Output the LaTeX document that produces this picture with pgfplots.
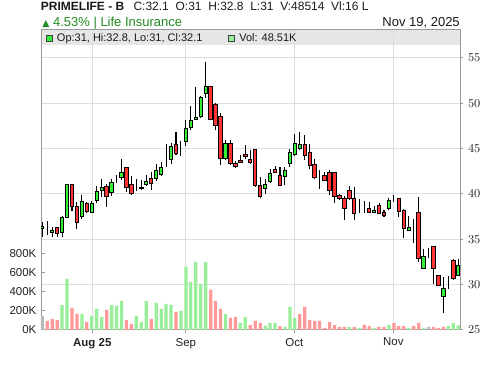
\documentclass[border=0pt]{standalone}
\usepackage{fontspec}
\setmainfont{Liberation Sans}
\newfontfamily\symfont{DejaVu Sans}
\usepackage{pgfplots}
\pgfplotsset{compat=1.18}
\usepackage{pgfplotstable}

\definecolor{cgreen}{HTML}{33EE33}
\definecolor{cred}{HTML}{FF3333}
\definecolor{vgreen}{HTML}{99EE99}
\definecolor{vred}{HTML}{FF9999}
\definecolor{vgray}{HTML}{BBBBBB}
\definecolor{gridc}{HTML}{DDDDDD}
\definecolor{framec}{HTML}{999999}
\definecolor{bandc}{HTML}{E6E6E6}
\definecolor{tickc}{HTML}{222222}
\definecolor{txtgreen}{HTML}{228B22}

\pgfplotstableread{
i o h l c vg vr vn
0 36.2 36.9 35.3 36.4 0 0 148
1 36.1 37.0 35.5 36.1 0 95 0
2 35.8 36.4 35.3 35.95 0 116 0
3 36.3 36.4 35.3 35.6 0 106 0
4 35.8 37.6 35.3 37.35 264 0 0
5 37.35 41.0 37.3 41.0 539 0 0
6 41.0 41.0 38.1 38.57 0 232 0
7 38.65 39.1 36.1 36.8 0 169 0
8 37.46 39.9 37.2 39.19 169 0 0
9 38.9 39.1 37.9 38.1 0 85 0
10 38.0 39.2 37.9 39.0 148 0 0
11 39.26 40.9 39.0 40.3 222 0 0
12 40.4 41.7 39.7 40.7 137 0 0
13 40.85 41.1 38.6 39.67 0 211 0
14 40.2 41.6 39.8 41.3 264 0 0
15 41.75 42.1 41.2 41.75 254 0 0
16 41.8 43.8 41.5 42.4 306 0 0
17 42.87 42.87 40.2 40.66 0 106 0
18 41.0 42.0 39.9 40.1 0 63 0
19 40.55 41.6 40.3 40.55 148 0 0
20 40.55 41.55 40.4 40.7 85 0 0
21 41.0 42.1 40.9 41.35 306 0 0
22 41.65 42.4 40.4 41.2 0 116 0
23 41.65 43.3 41.4 42.6 285 0 0
24 42.1 43.5 42.0 42.95 222 0 0
25 43.35 45.55 43.0 43.35 275 0 0
26 43.8 45.6 43.35 45.2 264 0 0
27 45.45 46.8 44.3 44.5 0 190 0
28 44.9 45.8 44.15 44.9 200 0 0
29 45.8 48.1 45.3 47.17 665 0 0
30 47.28 49.7 47.0 48.1 507 0 0
31 48.2 51.8 48.1 48.45 718 0 0
32 48.5 50.8 48.4 50.6 486 0 0
33 51.1 54.6 50.6 51.8 718 0 0
34 51.8 51.95 48.1 48.2 0 423 0
35 49.9 50.0 47.1 47.5 0 306 0
36 48.5 48.9 43.2 43.9 0 222 0
37 43.9 46.0 43.7 45.6 169 0 0
38 45.6 46.0 43.2 43.35 0 127 0
39 43.4 43.6 42.9 43.0 0 137 0
40 43.7 44.3 43.4 43.5 74 0 0
41 44.4 45.4 43.9 44.1 137 0 0
42 43.8 44.9 43.35 43.45 0 53 0
43 44.9 44.9 40.8 40.9 0 95 0
44 40.9 41.9 39.5 39.75 0 74 0
45 40.6 41.65 40.0 41.0 46 0 0
46 41.4 42.75 41.2 42.3 74 0 0
47 42.7 43.1 42.3 42.4 74 0 0
48 42.0 42.95 40.85 40.95 0 42 0
49 41.9 42.95 40.95 42.6 32 0 0
50 43.35 45.0 42.95 44.6 243 0 0
51 44.35 46.6 44.15 45.6 127 0 0
52 44.96 46.8 44.9 45.4 0 169 0
53 45.5 46.5 43.7 44.26 0 243 0
54 44.6 45.5 42.7 43.1 0 106 0
55 43.2 43.8 41.6 41.76 0 95 0
56 41.65 42.6 40.55 41.65 0 95 0
57 42.0 42.4 41.4 41.5 0 21 0
58 42.4 42.6 39.9 40.37 0 85 0
59 42.4 42.4 39.0 39.75 0 53 0
60 39.85 40.0 39.3 39.45 0 32 0
61 39.45 39.8 37.1 38.35 0 32 0
62 40.4 40.85 39.3 39.45 32 0 0
63 39.45 40.8 37.1 37.9 0 32 0
64 38.45 39.4 37.9 38.45 21 0 0
65 38.2 39.2 37.9 38.2 0 53 0
66 38.35 39.1 37.9 38.0 0 42 0
67 38.0 38.7 37.9 38.2 21 0 0
68 38.7 39.0 37.8 37.9 0 32 0
69 38.0 38.2 37.5 37.6 0 32 0
70 38.35 39.5 38.2 39.3 53 0 0
71 39.25 39.9 39.1 39.25 0 74 0
72 39.45 39.45 37.5 38.1 0 42 0
73 38.2 38.3 35.1 36.15 0 42 0
74 35.95 37.6 35.9 36.25 21 0 0
75 36.1 37.2 34.6 36.1 0 42 0
76 38.0 39.7 32.5 32.9 0 74 0
77 31.74 33.9 31.74 33.07 21 0 0
78 33.07 34.0 32.9 33.07 0 0 32
79 34.2 34.2 30.05 31.74 0 32 0
80 31.0 31.0 29.8 29.9 0 21 0
81 28.7 30.85 26.9 29.56 0 32 0
82 30.65 30.9 29.5 30.65 42 0 0
83 32.7 32.85 30.55 30.71 74 0 0
84 31.0 32.8 31.0 32.1 48.5 0 0
}\data

\pgfplotsset{
  base/.style={
    at={(30.75pt,27pt)}, anchor=south west, scale only axis,
    width=314.25pt, height=225pt,
    xmin=-0.26, xmax=84.35,
  },
}

\begin{document}
\begin{tikzpicture}
\begin{scope}[x=0.75pt,y=0.75pt]
\path[use as bounding box] (0,0) rectangle (500,366);
\fill[bandc] (41,321) rectangle (460,336);
\end{scope}

% price frame, grid and ticks
\begin{axis}[base,
  ymin=25, ymax=58.08,
  axis line style={framec, line width=0.75pt},
  xtick={10.1,29,50.9,70.9},
  xticklabels={\textbf{Aug 25},Sep,Oct,Nov},
  ytick={25,30,35,40,45,50,55},
  xtick pos=bottom, ytick pos=right, yticklabel pos=right,
  tick align=outside, major tick length=2.5pt,
  tick style={framec, line width=0.75pt},
  xmajorgrids, ymajorgrids,
  grid style={gridc, line width=0.75pt},
  ticklabel style={font=\fontsize{8.6}{10}\selectfont, text=tickc},
]
\addplot[draw=none, forget plot] coordinates {(0,30)};
\end{axis}

% volume
\begin{axis}[base,
  ymin=0, ymax=3157.9,
  axis line style={draw=none},
  xtick=\empty,
  ytick={0,200,400,600,800}, yticklabels={0K,200K,400K,600K,800K},
  ytick pos=left, yticklabel pos=left,
  tick align=inside, major tick length=3pt,
  tick style={framec, line width=0.75pt},
  ticklabel style={font=\fontsize{8.6}{10}\selectfont, text=tickc},
]
\addplot[ybar, bar width=0.66, bar shift=0pt, fill=vgreen, draw=none] table[x=i,y=vg]{\data};
\addplot[ybar, bar width=0.66, bar shift=0pt, fill=vred, draw=none] table[x=i,y=vr]{\data};
\addplot[ybar, bar width=0.66, bar shift=0pt, fill=vgray, draw=none] table[x=i,y=vn]{\data};
\end{axis}

% wicks
\begin{axis}[base, hide axis, ymin=25, ymax=58.08]
\addplot[black, line width=0.8pt, no markers,
  quiver={u=0, v=\thisrow{h}-\thisrow{l}}] table[x=i, y=l]{\data};
\end{axis}

% bodies
\begin{axis}[base, hide axis, ymin=25, ymax=58.08, ybar stacked, bar width=0.68]
\addplot[draw=none, fill=none] table[x=i, y expr={min(\thisrow{o},\thisrow{c})}]{\data};
\addplot[fill=cgreen, draw=black, line width=0.75pt] table[x=i, y expr={max(\thisrow{c}-\thisrow{o},0)}]{\data};
\addplot[fill=cred, draw=black, line width=0.75pt] table[x=i, y expr={max(\thisrow{o}-\thisrow{c},0)}]{\data};
\end{axis}

\begin{scope}[x=0.75pt,y=0.75pt]
\node[anchor=base west, inner sep=0, text=black!90, font=\bfseries\fontsize{9}{10}\selectfont] at (40.7,355) {PRIMELIFE - B};
\node[anchor=base west, inner sep=0, text=black!90, font=\fontsize{9}{10}\selectfont] at (133.3,355) {C:32.1\ \ O:31\ \ H:32.8\ \ L:31\ \ V:48514\ \ Vl:16 L};
\node[anchor=base west, inner sep=0, text=txtgreen, font=\fontsize{9.75}{11}\selectfont] at (42,339.5) {{\symfont\fontsize{7}{8}\selectfont ▲} 4.53\% | Life Insurance};
\node[anchor=base east, inner sep=0, text=black!90, font=\fontsize{9.75}{11}\selectfont] at (460,339.5) {Nov 19, 2025};
\filldraw[fill=cgreen, draw=black!75, line width=0.6pt] (46,325) rectangle (52,331);
\node[anchor=base west, inner sep=0, text=black!90, font=\fontsize{8.25}{9.9}\selectfont] at (56.7,324.3) {Op:31, Hi:32.8, Lo:31, Cl:32.1};
\filldraw[fill=vgreen, draw=black!75, line width=0.6pt] (228,325) rectangle (234,331);
\node[anchor=base west, inner sep=0, text=black!90, font=\fontsize{8.25}{9.9}\selectfont] at (239,324.3) {Vol: 48.51K};
\end{scope}
\end{tikzpicture}
\end{document}
